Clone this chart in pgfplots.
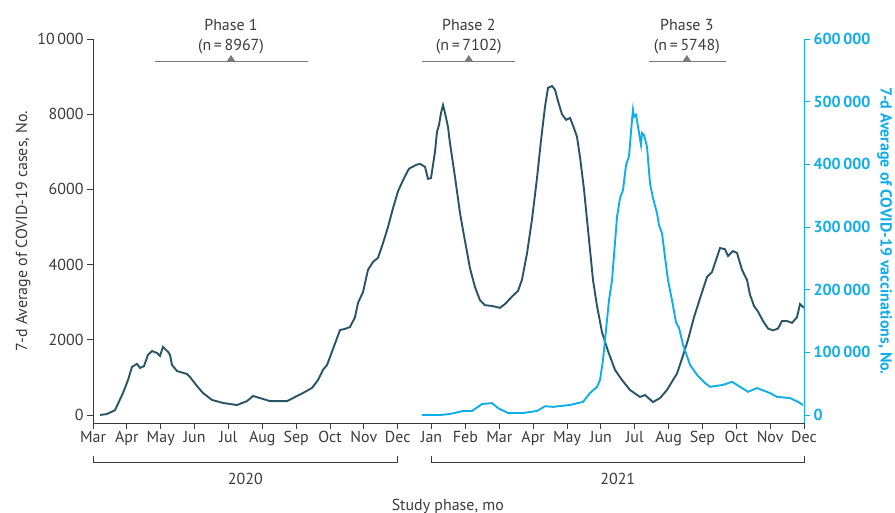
\documentclass[border=0pt]{standalone}
\usepackage{fontspec}
\setmainfont{PT Sans}
\usepackage{pgfplots}
\pgfplotsset{compat=1.18}
\definecolor{dteal}{HTML}{285565}
\definecolor{cyanv}{HTML}{10AEE8}
\definecolor{axgray}{HTML}{3A3A3A}
\definecolor{anngray}{HTML}{7A7A7A}
\begin{document}
\begin{tikzpicture}[font=\fontsize{16}{20}\selectfont]
\begin{axis}[
  scale only axis, width=711bp, height=384bp,
  xmin=0, xmax=21, ymin=-213, ymax=10000,
  axis x line*=bottom, axis y line*=left,
  axis line style={axgray, line width=0.8bp},
  tick style={axgray, line width=0.8bp},
  tick align=outside, major tick length=6bp,
  scaled y ticks=false,
  xtick={0,...,21},
  xticklabels={Mar,Apr,May,Jun,Jul,Aug,Sep,Oct,Nov,Dec,Jan,Feb,Mar,Apr,May,Jun,Jul,Aug,Sep,Oct,Nov,Dec},
  ytick={0,2000,4000,6000,8000,10000},
  yticklabels={0,2000,4000,6000,8000,10\,000},
  ticklabel style={text=axgray},
  xticklabel style={yshift=1bp},
  ylabel={7-d Average of COVID-19 cases, No.},
  ylabel style={text=axgray},
  clip=false,
]
\coordinate (SW) at (rel axis cs:0,0);
\coordinate (NE) at (rel axis cs:1,1);
\addplot[dteal, line width=1.9bp] coordinates {
(0.207,0) (0.413,25) (0.650,130) (0.886,585) (1.034,930) (1.152,1280) (1.300,1360)
(1.388,1250) (1.506,1300) (1.624,1600) (1.743,1700) (1.890,1650) (1.979,1570)
(2.068,1810) (2.215,1680) (2.274,1600) (2.333,1330) (2.481,1170) (2.776,1090)
(2.865,1010) (3.072,770) (3.249,585) (3.515,400) (3.840,320) (4.253,265)
(4.549,370) (4.726,505) (4.933,450) (5.228,370) (5.730,370) (5.907,450)
(6.203,585) (6.468,720) (6.646,930) (6.793,1200) (6.912,1330) (7.000,1540)
(7.148,1900) (7.296,2260) (7.443,2290) (7.591,2340) (7.738,2600) (7.827,2980)
(7.975,3270) (8.122,3860) (8.270,4070) (8.418,4180) (8.565,4570) (8.713,5000)
(8.861,5500) (9.008,5950) (9.186,6300) (9.333,6550) (9.540,6650) (9.658,6680)
(9.806,6600) (9.894,6280) (9.983,6300) (10.101,7000) (10.160,7530) (10.219,7710)
(10.278,8030) (10.338,8240) (10.397,8030) (10.485,7660) (10.544,7230) (10.692,6330)
(10.840,5370) (10.928,4920) (11.135,3900) (11.283,3400) (11.430,3050) (11.578,2920)
(11.785,2900) (12.021,2850) (12.169,2950) (12.376,3150) (12.553,3300) (12.671,3600)
(12.819,4300) (12.966,5200) (13.114,6300) (13.232,7300) (13.350,8200) (13.439,8700)
(13.557,8750) (13.646,8650) (13.734,8350) (13.852,8000) (13.971,7850) (14.089,7900)
(14.177,7700) (14.295,7400) (14.384,6860) (14.502,6000) (14.591,5190) (14.679,4400)
(14.768,3590) (14.886,2900) (15.034,2200) (15.211,1700) (15.418,1200) (15.624,930)
(15.861,665) (16.156,480) (16.304,530) (16.540,345) (16.747,450) (16.954,665)
(17.131,930) (17.249,1100) (17.397,1500) (17.574,2000) (17.751,2600) (17.928,3100)
(18.135,3670) (18.283,3800) (18.519,4440) (18.666,4410) (18.755,4230) (18.903,4360)
(19.021,4310) (19.169,3860) (19.317,3590) (19.405,3200) (19.523,2900) (19.641,2750)
(19.789,2500) (19.937,2300) (20.084,2250) (20.232,2300) (20.350,2500) (20.498,2500)
(20.646,2450) (20.793,2600) (20.882,2950) (21.000,2850)
};
% year brackets
\draw[axgray, line width=0.8bp] ([yshift=-33bp]axis cs:0,-213) -- ([yshift=-39bp]axis cs:0,-213) -- ([yshift=-39bp]axis cs:9,-213) -- ([yshift=-33bp]axis cs:9,-213);
\draw[axgray, line width=0.8bp] ([yshift=-33bp]axis cs:10,-213) -- ([yshift=-39bp]axis cs:10,-213) -- ([yshift=-39bp]axis cs:21,-213) -- ([yshift=-33bp]axis cs:21,-213);
\node[text=axgray] at ([yshift=-56bp]axis cs:4.5,-213) {2020};
\node[text=axgray] at ([yshift=-56bp]axis cs:15.5,-213) {2021};
\node[text=axgray] at ([yshift=-83bp]axis cs:10.48,-213) {Study phase, mo};
% phases
\draw[anngray, line width=0.8bp] (axis cs:1.83,9415) -- (axis cs:6.35,9415);
\fill[anngray] ([xshift=-4bp]axis cs:4.076,9415) -- ([yshift=6bp]axis cs:4.076,9415) -- ([xshift=4bp]axis cs:4.076,9415) -- cycle;
\node[text=axgray, align=center, anchor=south, inner sep=0pt] at ([yshift=7bp]axis cs:4.076,9415) {Phase 1\\(n\,=\,8967)};
\draw[anngray, line width=0.8bp] (axis cs:9.717,9415) -- (axis cs:12.46,9415);
\fill[anngray] ([xshift=-4bp]axis cs:11.10,9415) -- ([yshift=6bp]axis cs:11.10,9415) -- ([xshift=4bp]axis cs:11.10,9415) -- cycle;
\node[text=axgray, align=center, anchor=south, inner sep=0pt] at ([yshift=7bp]axis cs:11.10,9415) {Phase 2\\(n\,=\,7102)};
\draw[anngray, line width=0.8bp] (axis cs:16.42,9415) -- (axis cs:18.70,9415);
\fill[anngray] ([xshift=-4bp]axis cs:17.54,9415) -- ([yshift=6bp]axis cs:17.54,9415) -- ([xshift=4bp]axis cs:17.54,9415) -- cycle;
\node[text=axgray, align=center, anchor=south, inner sep=0pt] at ([yshift=7bp]axis cs:17.54,9415) {Phase 3\\(n\,=\,5748)};
\end{axis}
\begin{axis}[
  scale only axis, width=711bp, height=384bp,
  xmin=0, xmax=21, ymin=-12766, ymax=600000,
  axis x line=none, axis y line*=right,
  axis line style={cyanv, line width=0.8bp},
  tick style={cyanv, line width=0.8bp},
  tick align=outside, major tick length=6bp,
  scaled y ticks=false,
  ytick={0,100000,200000,300000,400000,500000,600000},
  yticklabels={0,100\,000,200\,000,300\,000,400\,000,500\,000,600\,000},
  yticklabel style={text=cyanv, font=\fontsize{16}{20}\selectfont\bfseries},
  ylabel={7-d Average of COVID-19 vaccinations, No.},
  ylabel style={text=cyanv, font=\fontsize{16}{20}\selectfont\bfseries, rotate=180},
  clip=false,
]
\addplot[cyanv, line width=1.9bp] coordinates {
(9.717,0) (10.249,0) (10.544,1600) (10.928,6400) (11.194,6400) (11.489,17500)
(11.785,19000) (11.962,11000) (12.257,3200) (12.700,3200) (13.114,6400) (13.350,14000)
(13.586,13000) (14.089,16000) (14.473,21000) (14.679,35000) (14.886,45000) (14.975,56000)
(15.063,88000) (15.152,136000) (15.240,183000) (15.329,215000) (15.477,316000) (15.565,346000)
(15.654,359000) (15.743,399000) (15.831,413000) (15.920,471000) (15.949,487000) (15.979,476000)
(16.038,479000) (16.097,460000) (16.186,431000) (16.215,450000) (16.274,447000) (16.363,428000)
(16.451,370000) (16.540,346000) (16.658,322000) (16.717,303000) (16.806,290000) (16.894,252000)
(16.983,215000) (17.101,183000) (17.219,148000) (17.308,139000) (17.426,112000) (17.633,80000)
(17.840,64000) (18.076,51000) (18.224,45000) (18.607,48000) (18.873,53000) (19.346,37000)
(19.612,43000) (19.996,35000) (20.202,29000) (20.586,27000) (20.823,21000) (20.970,16000)
};
\end{axis}
\pgfresetboundingbox
\path ([shift={(-93bp,-90bp)}]SW) rectangle ([shift={(91bp,39bp)}]NE);
\end{tikzpicture}
\end{document}
